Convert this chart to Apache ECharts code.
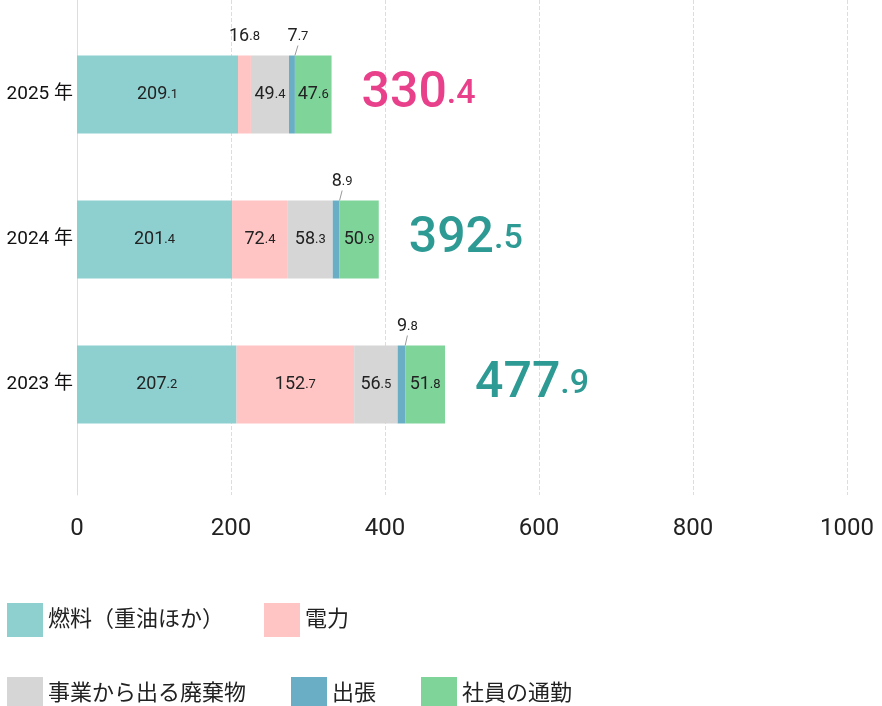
<!DOCTYPE html>
<html><head><meta charset="utf-8">
<script src="https://cdn.jsdelivr.net/npm/echarts@6/dist/echarts.min.js"></script>
<style>body{margin:0}#c{width:882px;height:706px}</style>
</head><body><div id="c"></div>
<script>
var years = ['2023年', '2024年', '2025年'];
var fuel = [207.2, 201.4, 209.1];
var power = [152.7, 72.4, 16.8];
var waste = [56.5, 58.3, 49.4];
var trip = [9.8, 8.9, 7.7];
var commute = [51.8, 50.9, 47.6];
var totals = [477.9, 392.5, 330.4];
var xTicks = [0, 200, 400, 600, 800, 1000];

var myChart = echarts.init(document.getElementById('c'));
var font = 'Roboto, "Noto Sans CJK JP", sans-serif';

// 数字を「整数部 + 小さい小数部」で表示
function num(v) {
    var s = v.toFixed(1).split('.');
    return '{a|' + s[0] + '}{b|.' + s[1] + '}';
}
var rich = {a: {fontSize: 18, color: '#222', fontFamily: font}, b: {fontSize: 13, color: '#222', fontFamily: font}};

function seriesOf(name, data, color, small) {
    return {
        name: name, type: 'bar', stack: 'all', xAxisIndex: 0, yAxisIndex: 0,
        barWidth: 78, data: data,
        itemStyle: {color: color},
        label: {
            show: true, position: small ? 'top' : 'inside', distance: 6,
            formatter: function (p) {
                if (!small && p.value < 20) return '';
                return num(p.value);
            },
            rich: rich
        },
        labelLine: small ? {show: true, lineStyle: {color: '#999'}} : undefined,
        labelLayout: small ? {dx: 6, dy: -4} : undefined
    };
}

var pw = seriesOf('電力', power, '#ffc4c4', false);
// 2025 電力は小さいので上に出す
pw.data = power.map(function (v, i) {
    return i === 2 ? {value: v, label: {position: 'top', distance: 10}} : v;
});
pw.label.formatter = function (p) { return num(p.value); };

var options = {
    animation: false,
    grid: [
        {left: 77, top: 22, width: 770, height: 435},
        {left: 77, top: 0, width: 770, height: 495}
    ],
    xAxis: [
        {gridIndex: 0, type: 'value', min: 0, max: 1000, show: false},
        {gridIndex: 1, type: 'value', min: 0, max: 1000, interval: 200,
         axisLine: {show: false}, axisTick: {show: false},
         axisLabel: {fontSize: 24, color: '#222', margin: 22, fontFamily: font,
                     formatter: function (v) { return String(v); }},
         splitLine: {show: true, lineStyle: {type: 'dashed', color: '#ddd'}}}
    ],
    yAxis: [
        {gridIndex: 0, type: 'category', data: years,
         axisLine: {show: false}, axisTick: {show: false},
         axisLabel: {fontSize: 19, color: '#111', margin: 4, fontFamily: font,
                     formatter: function (v) { return v.replace('年', ' 年'); }}},
        {gridIndex: 1, type: 'value', min: 0, max: 1,
         axisLine: {show: true, lineStyle: {color: '#ddd'}},
         axisTick: {show: false}, axisLabel: {show: false}, splitLine: {show: false}}
    ],
    legend: [
        {left: 2, top: 598, itemWidth: 36, itemHeight: 34, itemGap: 40, icon: 'rect',
         textStyle: {fontSize: 22, color: '#222', fontFamily: font},
         data: ['燃料（重油ほか）', '電力']},
        {left: 2, top: 672, itemWidth: 36, itemHeight: 34, itemGap: 45, icon: 'rect',
         textStyle: {fontSize: 22, color: '#222', fontFamily: font},
         data: ['事業から出る廃棄物', '出張', '社員の通勤']}
    ],
    series: [
        seriesOf('燃料（重油ほか）', fuel, '#8ecfd0', false),
        pw,
        seriesOf('事業から出る廃棄物', waste, '#d6d6d6', false),
        seriesOf('出張', trip, '#6aaec5', true),
        seriesOf('社員の通勤', commute, '#7fd49a', false),
        {
            name: 'total', type: 'bar', stack: 'all', barWidth: 78,
            data: totals.map(function () { return 0; }),
            itemStyle: {color: 'transparent'},
            label: {
                show: true, position: 'right', distance: 30,
                formatter: function (p) {
                    var s = totals[p.dataIndex].toFixed(1).split('.');
                    var k = p.dataIndex === 2 ? 'p' : 't';
                    return '{' + k + '|' + s[0] + '}{' + k + 's|.' + s[1] + '}';
                },
                rich: {
                    p: {fontSize: 50, color: '#e8408a', fontFamily: font, fontWeight: 500},
                    ps: {fontSize: 34, color: '#e8408a', fontFamily: font, fontWeight: 500},
                    t: {fontSize: 50, color: '#2e9a94', fontFamily: font, fontWeight: 500},
                    ts: {fontSize: 34, color: '#2e9a94', fontFamily: font, fontWeight: 500}
                }
            }
        }
    ]
};
myChart.setOption(options);
</script>
</body></html>
